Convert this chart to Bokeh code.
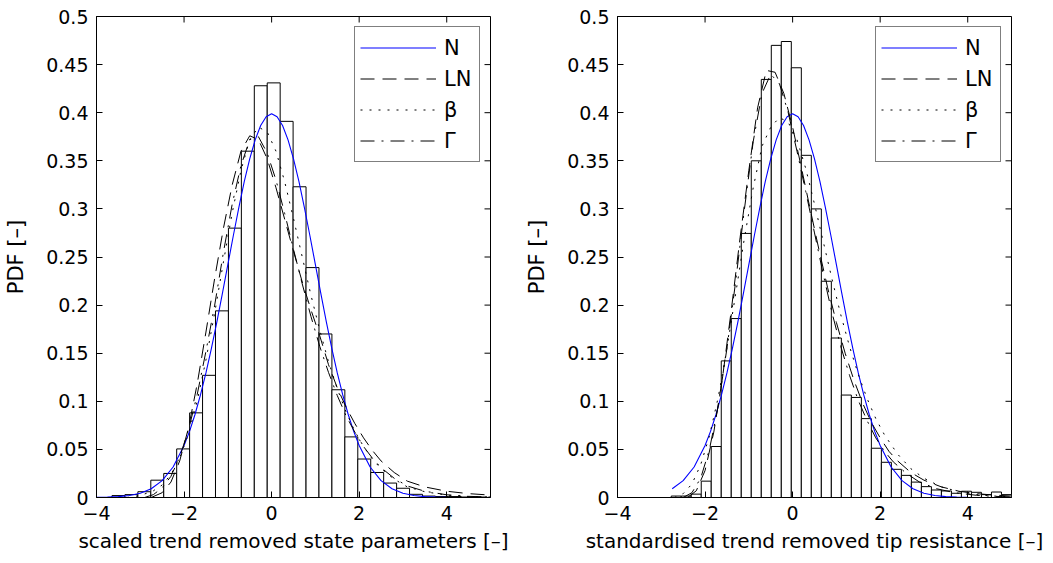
from bokeh.plotting import figure
from bokeh.layouts import row
from bokeh.models import FixedTicker, Range1d
from bokeh.embed import file_html
from bokeh.resources import INLINE
import numpy as np

# ---------------- data ----------------
# Left histogram: scaled trend removed state parameters
left_bin_start = -3.646
left_bin_width = 0.2955
left_hist = [0.002, 0.003, 0.006, 0.018, 0.025, 0.0505, 0.088, 0.127, 0.194, 0.280,
             0.360, 0.428, 0.431, 0.391, 0.323, 0.239, 0.170, 0.112, 0.063, 0.040,
             0.026, 0.015, 0.0096, 0.0033, 0.0015, 0.001, 0.001, 0.0005, 0.0005]

# Right histogram: standardised trend removed tip resistance
right_bin_start = -2.773
right_bin_width = 0.2286
right_hist = [0.0015, 0.0015, 0.0035, 0.017, 0.053, 0.142, 0.186, 0.2745, 0.35, 0.4346,
              0.470, 0.474, 0.4467, 0.3557, 0.300, 0.2248, 0.1658, 0.1065, 0.104, 0.082,
              0.0512, 0.0366, 0.0293, 0.023, 0.016, 0.0113, 0.0078, 0.0068, 0.0044, 0.0065,
              0.0054, 0.003, 0.0057, 0.003]

# Normal curve (both panels)
n_x = [-4.0, -3.75, -3.5, -3.25, -3.0, -2.75, -2.5, -2.25, -2.0, -1.875, -1.75, -1.625,
       -1.5, -1.375, -1.25, -1.125, -1.0, -0.875, -0.75, -0.625, -0.5, -0.375, -0.25,
       -0.125, 0.0, 0.125, 0.25, 0.375, 0.5, 0.625, 0.75, 0.875, 1.0, 1.125, 1.25, 1.375,
       1.5, 1.625, 1.75, 1.875, 2.0, 2.25, 2.5, 2.75, 3.0, 3.25, 3.5, 3.75, 4.0, 4.5, 5.0]
n_y = [0.0001, 0.0004, 0.0009, 0.002, 0.0044, 0.0091, 0.0175, 0.0317, 0.054, 0.0687,
       0.0863, 0.1066, 0.1295, 0.1551, 0.1826, 0.2119, 0.242, 0.2721, 0.3011, 0.3284,
       0.3521, 0.3718, 0.3867, 0.3958, 0.3989, 0.3958, 0.3867, 0.3718, 0.3521, 0.3284,
       0.3011, 0.2721, 0.242, 0.2119, 0.1826, 0.1551, 0.1295, 0.1066, 0.0863, 0.0687,
       0.054, 0.0317, 0.0175, 0.0091, 0.0044, 0.002, 0.0009, 0.0004, 0.0001, 0.0, 0.0]
right_n_start = -2.75

# Left panel fitted curves
l_ln_x = [-2.75, -2.5, -2.3, -2.1, -1.9, -1.7, -1.5, -1.3, -1.1, -0.9, -0.7, -0.5, -0.3,
          -0.1, 0.1, 0.3, 0.5, 0.7, 0.9, 1.1, 1.3, 1.5, 1.7, 1.9, 2.1, 2.3, 2.5, 2.8, 3.1,
          3.5, 4.0, 4.5, 5.0]
l_ln_y = [0.0, 0.005, 0.016, 0.038, 0.072, 0.118, 0.172, 0.228, 0.28, 0.325, 0.36, 0.376,
          0.372, 0.352, 0.322, 0.289, 0.256, 0.224, 0.195, 0.168, 0.138, 0.114, 0.094,
          0.077, 0.062, 0.049, 0.038, 0.026, 0.017, 0.011, 0.0065, 0.004, 0.0025]

l_beta_x = [-3.3, -3.0, -2.7, -2.5, -2.3, -2.1, -1.9, -1.7, -1.5, -1.3, -1.1, -0.9, -0.7,
            -0.5, -0.3, -0.1, 0.1, 0.3, 0.5, 0.7, 0.9, 1.1, 1.3, 1.5, 1.7, 1.9, 2.1, 2.3,
            2.5, 2.8, 3.1, 3.5, 4.0, 4.5, 5.0]
l_beta_y = [0.0, 0.002, 0.007, 0.013, 0.024, 0.041, 0.066, 0.1, 0.143, 0.192, 0.245, 0.296,
            0.34, 0.372, 0.385, 0.38, 0.36, 0.328, 0.29, 0.25, 0.21, 0.174, 0.141, 0.113,
            0.089, 0.069, 0.053, 0.04, 0.03, 0.019, 0.011, 0.006, 0.0025, 0.001, 0.0003]

l_gam_x = [-2.9, -2.7, -2.5, -2.3, -2.1, -1.9, -1.7, -1.5, -1.3, -1.1, -0.9, -0.7, -0.5,
           -0.3, -0.1, 0.1, 0.3, 0.5, 0.7, 0.9, 1.1, 1.3, 1.5, 1.7, 1.9, 2.1, 2.3, 2.5,
           2.8, 3.1, 3.5, 4.0, 4.5, 5.0]
l_gam_y = [0.0, 0.003, 0.01, 0.022, 0.042, 0.07, 0.107, 0.152, 0.2, 0.255, 0.305, 0.345,
           0.372, 0.375, 0.358, 0.33, 0.295, 0.258, 0.222, 0.188, 0.157, 0.13, 0.106, 0.085,
           0.068, 0.053, 0.041, 0.031, 0.02, 0.012, 0.0065, 0.0028, 0.0012, 0.0005]

# Right panel fitted curves
r_ln_x = [-2.4, -2.2, -2.0, -1.8, -1.6, -1.4, -1.2, -1.0, -0.8, -0.6, -0.4, -0.2, 0.0,
          0.2, 0.4, 0.6, 0.8, 1.0, 1.2, 1.4, 1.6, 1.8, 2.0, 2.2, 2.4, 2.7, 3.0, 3.4, 3.8,
          4.2, 4.6, 5.0]
r_ln_y = [0.0, 0.007, 0.028, 0.068, 0.125, 0.195, 0.27, 0.34, 0.405, 0.444, 0.442, 0.42,
          0.385, 0.343, 0.3, 0.258, 0.218, 0.182, 0.15, 0.122, 0.098, 0.078, 0.062, 0.048,
          0.038, 0.026, 0.018, 0.011, 0.0065, 0.004, 0.0025, 0.0015]

r_beta_x = [-2.7, -2.5, -2.3, -2.1, -1.9, -1.7, -1.5, -1.3, -1.1, -0.9, -0.7, -0.5, -0.3,
            -0.1, 0.1, 0.3, 0.5, 0.7, 0.9, 1.1, 1.3, 1.5, 1.7, 1.9, 2.1, 2.4, 2.7, 3.0,
            3.4, 3.8, 4.2, 4.6, 5.0]
r_beta_y = [0.0, 0.004, 0.014, 0.034, 0.064, 0.104, 0.155, 0.212, 0.27, 0.322, 0.365,
            0.385, 0.395, 0.39, 0.372, 0.342, 0.305, 0.266, 0.227, 0.19, 0.157, 0.128,
            0.103, 0.082, 0.065, 0.045, 0.03, 0.02, 0.011, 0.006, 0.003, 0.0015, 0.0007]

r_gam_x = [-2.5, -2.3, -2.1, -1.9, -1.7, -1.5, -1.3, -1.1, -0.9, -0.7, -0.5, -0.3, -0.1,
           0.1, 0.3, 0.5, 0.7, 0.9, 1.1, 1.3, 1.5, 1.7, 1.9, 2.1, 2.3, 2.6, 2.9, 3.3, 3.7,
           4.2, 4.6, 5.0]
r_gam_y = [0.0, 0.005, 0.02, 0.05, 0.095, 0.155, 0.225, 0.3, 0.37, 0.42, 0.44, 0.43, 0.4,
           0.36, 0.318, 0.275, 0.232, 0.192, 0.157, 0.127, 0.101, 0.08, 0.062, 0.048,
           0.037, 0.025, 0.016, 0.009, 0.005, 0.0023, 0.0012, 0.0006]

x_lim = (-4, 5)
y_lim = (0, 0.5)
x_ticks = [-4, -2, 0, 2, 4]
x_tick_labels = ["\u22124", "\u22122", "0", "2", "4"]
y_ticks = [0, 0.05, 0.1, 0.15, 0.2, 0.25, 0.3, 0.35, 0.4, 0.45, 0.5]
y_tick_labels = ["0", "0.05", "0.1", "0.15", "0.2", "0.25", "0.3", "0.35", "0.4", "0.45", "0.5"]
legend_labels = ["N", "LN", "\u03b2", "\u0393"]
y_label = "PDF [\u2013]"
left_x_label = "scaled trend removed state parameters [\u2013]"
right_x_label = "standardised trend removed tip resistance [\u2013]"

FONT = "DejaVu Sans"
TICK_FS = "19px"
XLABEL_FS = "20px"
YLABEL_FS = "21px"
LEGEND_FS = "21px"


def style_axis(ax, labels, ticks):
    ax.ticker = FixedTicker(ticks=ticks)
    ax.major_label_overrides = {t: l for t, l in zip(ticks, labels)}
    ax.major_tick_in = 6
    ax.major_tick_out = 0
    ax.minor_tick_in = 0
    ax.minor_tick_out = 0
    ax.axis_line_color = "black"
    ax.major_tick_line_color = "black"
    ax.axis_line_width = 1
    ax.major_label_text_font = FONT
    ax.major_label_text_color = "black"
    ax.major_label_text_font_size = TICK_FS
    ax.major_label_standoff = 8


def make_panel(hist, bstart, bwidth, nx, ny, curves, xlabel, mbl, mbr):
    p = figure(frame_width=394, frame_height=481, output_backend="svg",
               toolbar_location=None, x_range=Range1d(*x_lim), y_range=Range1d(*y_lim),
               min_border_left=mbl, min_border_right=mbr, min_border_top=16,
               min_border_bottom=60, background_fill_color="white",
               border_fill_color="white")
    p.grid.visible = False
    p.outline_line_color = "black"
    p.outline_line_width = 1
    p.outline_line_alpha = 1

    edges = bstart + bwidth * np.arange(len(hist) + 1)
    p.quad(left=edges[:-1], right=edges[1:], bottom=0, top=hist,
           fill_color="white", line_color="black", line_width=1)

    p.line(nx, ny, line_color="#0000ff", line_width=1.1, legend_label=legend_labels[0])
    dashes = ["14 8", "2 7", "14 7 2 7"]
    for (cx, cy), lab, dash in zip(curves, legend_labels[1:], dashes):
        p.line(cx, cy, line_color="black", line_width=1, line_dash=dash, legend_label=lab)

    # inward ticks on the top and right edges of the box (MATLAB "box on")
    p.scatter(x=x_ticks, y=[y_lim[1]] * len(x_ticks), marker="dash", size=12,
              angle=np.pi / 2, line_color="black", line_width=1)
    p.scatter(x=[x_lim[1]] * len(y_ticks), y=y_ticks, marker="dash", size=12,
              angle=0, line_color="black", line_width=1)

    style_axis(p.xaxis[0], x_tick_labels, x_ticks)
    style_axis(p.yaxis[0], y_tick_labels, y_ticks)
    p.xaxis.axis_label = xlabel
    p.yaxis.axis_label = y_label
    for ax, fs in ((p.xaxis[0], XLABEL_FS), (p.yaxis[0], YLABEL_FS)):
        ax.axis_label_text_font = FONT
        ax.axis_label_text_font_size = fs
        ax.axis_label_text_font_style = "normal"
        ax.axis_label_text_color = "black"
    p.xaxis[0].axis_label_standoff = 6
    p.yaxis[0].axis_label_standoff = 15

    lg = p.legend[0]
    lg.location = "top_right"
    lg.margin = 10
    lg.padding = 5
    lg.spacing = 0
    lg.label_height = 31
    lg.glyph_height = 31
    lg.glyph_width = 76
    lg.label_standoff = 8
    lg.label_width = 30
    lg.label_text_font = FONT
    lg.label_text_font_size = LEGEND_FS
    lg.label_text_color = "black"
    lg.border_line_color = "black"
    lg.border_line_width = 1
    lg.background_fill_color = "white"
    lg.background_fill_alpha = 1
    return p


p1 = make_panel(left_hist, left_bin_start, left_bin_width, n_x, n_y,
                [(l_ln_x, l_ln_y), (l_beta_x, l_beta_y), (l_gam_x, l_gam_y)],
                left_x_label, 96, 22)

rn_x = [x for x in n_x if x >= right_n_start]
rn_y = [y for x, y in zip(n_x, n_y) if x >= right_n_start]
p2 = make_panel(right_hist, right_bin_start, right_bin_width, rn_x, rn_y,
                [(r_ln_x, r_ln_y), (r_beta_x, r_beta_y), (r_gam_x, r_gam_y)],
                right_x_label, 105, 33)

layout = row(p1, p2)
open("out.html", "w").write(file_html(layout, INLINE))
